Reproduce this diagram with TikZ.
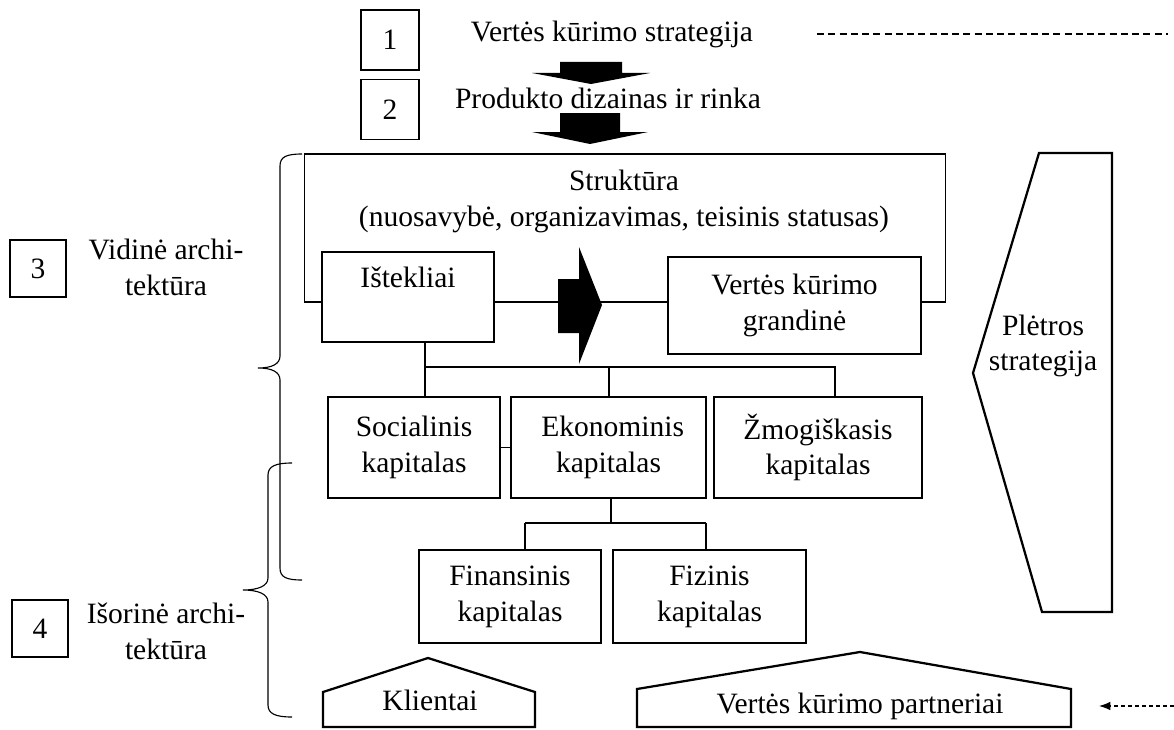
\documentclass[tikz,border=0pt]{standalone}
\usepackage{fontspec}
\setmainfont{Liberation Serif}
\usetikzlibrary{arrows.meta}
\tikzset{
  base/.style={font=\fontsize{21}{25.5}\selectfont, align=center, inner sep=0pt, outer sep=0mm},
  box/.style={rectangle, draw=black, line width=0.8pt, fill=white, base},
  numbox/.style={box, minimum width=1.45cm, minimum height=1.5cm},
  txt/.style={base},
  conn/.style={line width=0.8pt},
  shell/.style={line width=1.6pt, fill=white, line join=miter},
  blockarrow/.style={fill=black},
  dasharrow/.style={-{Latex[length=8pt,width=6pt]}, dash pattern=on 3pt off 2pt, line width=0.8pt}
}
\begin{document}
\begin{tikzpicture}[x=0.025cm, y=-0.025cm]
  \useasboundingbox (0,0) rectangle (1174,729);

  % strategy levels
  \node[numbox] (n1) at (390,40) {1};
  \node[numbox] (n2) at (390,109.5) {2};
  \node[txt] (strategija) at (612,34) {Vertės kūrimo strategija};
  \node[txt] (produktas) at (608,98) {Produkto dizainas ir rinka};
  \coordinate (dashL) at (817,34);
  \coordinate (dashR) at (1168,34);
  \draw[conn, dash pattern=on 5pt off 3pt] (dashL) -- (dashR);

  % down arrows
  \fill[blockarrow] (560,62) -- (622,62) -- (622,73) -- (650,73) -- (591,84) -- (532,73) -- (560,73) -- cycle;
  \fill[blockarrow] (560,113) -- (620,113) -- (620,132) -- (648,132) -- (590,144) -- (532,132) -- (560,132) -- cycle;

  % internal architecture
  \node[box, minimum width=16cm, minimum height=3.7cm] (struktura) at (625,228) {};
  \node[txt] (struktura-t) at (624,201.5) {Struktūra\\(nuosavybė, organizavimas, teisinis statusas)};
  \node[box, minimum width=4.3cm, minimum height=2.25cm] (istekliai) at (408,297) {};
  \node[txt] (istekliai-t) at (408,277) {Ištekliai};
  \node[box, minimum width=6.325cm, minimum height=2.425cm] (grandine) at (794.5,305.5) {Vertės kūrimo\\grandinė};
  \fill[blockarrow] (558,279) -- (579,279) -- (579,247) -- (602,305) -- (579,364) -- (579,333) -- (558,333) -- cycle;

  % capitals
  \node[box, minimum width=4.3cm, minimum height=2.525cm] (socialinis) at (414,447.5) {Socialinis\\kapitalas};
  \node[box, minimum width=4.875cm, minimum height=2.525cm] (ekonominis) at (608.5,447.5) {\hspace*{6pt}Ekonominis\\kapitalas};
  \node[box, minimum width=5.2cm, minimum height=2.525cm] (zmogiskasis) at (818,447.5) {Žmogiškasis\\kapitalas};
  \node[box, minimum width=4.55cm, minimum height=2.325cm] (finansinis) at (510,596.5) {Finansinis\\kapitalas};
  \node[box, minimum width=4.825cm, minimum height=2.325cm] (fizinis) at (709.5,596.5) {Fizinis\\kapitalas};

  % tree
  \coordinate (t1) at (425,367);
  \coordinate (t2) at (609,367);
  \coordinate (t3) at (835,367);
  \draw[conn] (istekliai.south -| t1) -- (socialinis.north -| t1);
  \draw[conn] (t1) -- (t3) -- (zmogiskasis.north -| t3);
  \draw[conn] (t2) -- (ekonominis.north -| t2);
  \draw[conn] (socialinis.east) -- (ekonominis.west);
  \coordinate (e1) at (611,523);
  \coordinate (e2) at (525,523);
  \coordinate (e3) at (706,523);
  \draw[conn] (ekonominis.south -| e1) -- (e1);
  \draw[conn] (e2) -- (e3);
  \draw[conn] (e2) -- (finansinis.north -| e2);
  \draw[conn] (e3) -- (fizinis.north -| e3);

  % development strategy
  \draw[shell] (1112,153) -- (1039,153) -- (973,373) -- (1042,612) -- (1112,612) -- cycle;
  \node[txt] (pletros) at (1043,346) {Plėtros\\strategija};

  % external
  \draw[shell] (323,727) -- (323,692) -- (428,658) -- (535,692) -- (535,727) -- cycle;
  \node[txt] (klientai) at (430,700) {Klientai};
  \draw[shell] (637,727) -- (637,689) -- (860,652) -- (1071,689) -- (1071,727) -- cycle;
  \node[txt] (partneriai) at (860,706) {Vertės kūrimo partneriai};
  \coordinate (pin) at (1174,706);
  \coordinate (pinTip) at (1099,706);
  \draw[dasharrow] (pin) -- (pinTip);

  % levels and braces
  \node[numbox, minimum width=1.4cm, minimum height=1.425cm] (n3) at (38,268.5) {3};
  \node[txt] (vidine) at (166,267) {Vidinė archi-\\tektūra};
  \node[numbox, minimum width=1.4cm, minimum height=1.425cm] (n4) at (40,628.5) {4};
  \node[txt] (isorine) at (166,631) {Išorinė archi-\\tektūra};
  \draw[conn] (302,154) .. controls (286,154) and (280,157) .. (280,166) -- (280,356)
    .. controls (280,364) and (272,368) .. (258,368) .. controls (272,368) and (280,372) .. (280,380)
    -- (280,568) .. controls (280,577) and (286,580) .. (302,580);
  \draw[conn] (292,463) .. controls (276,463) and (268,466) .. (268,475) -- (268,578)
    .. controls (268,586) and (258,590) .. (243,590) .. controls (258,590) and (268,594) .. (268,602)
    -- (268,705) .. controls (268,714) and (276,717) .. (292,717);
\end{tikzpicture}
\end{document}
